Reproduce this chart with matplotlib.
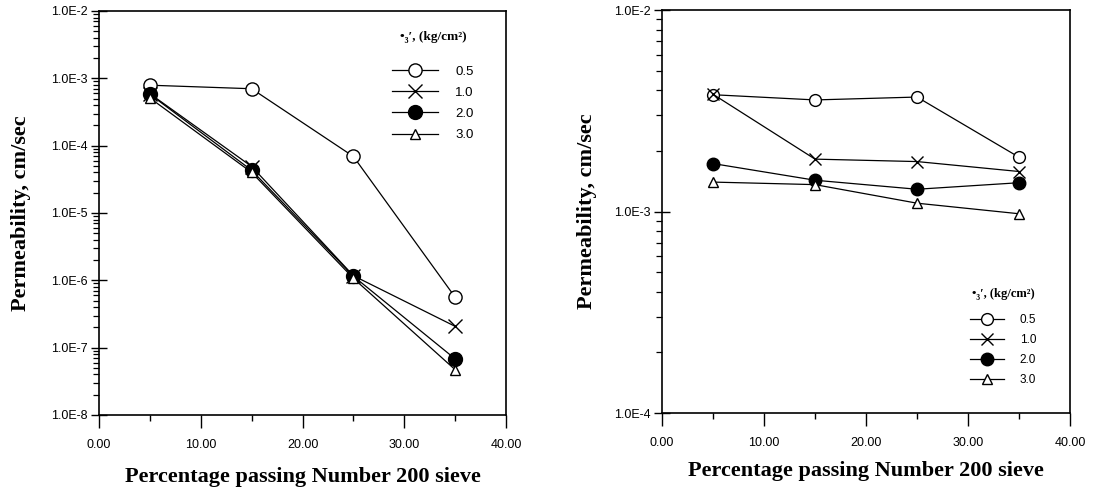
import numpy as np
import matplotlib
matplotlib.use("Agg")
import matplotlib.pyplot as plt
from matplotlib.ticker import FixedLocator, FuncFormatter, LogLocator, NullFormatter

# percentage passing No. 200 sieve
fines = [5, 15, 25, 35]
stress_labels = ["0.5", "1.0", "2.0", "3.0"]

# left panel permeability (cm/sec)
k_left_05 = [7.9e-4, 7.0e-4, 6.9e-5, 5.6e-7]
k_left_10 = [5.9e-4, 4.9e-5, 1.17e-6, 2.07e-7]
k_left_20 = [5.8e-4, 4.3e-5, 1.15e-6, 6.8e-8]
k_left_30 = [5.1e-4, 4.0e-5, 1.07e-6, 4.7e-8]

# right panel permeability (cm/sec)
k_right_05 = [3.80e-3, 3.58e-3, 3.70e-3, 1.86e-3]
k_right_10 = [3.82e-3, 1.82e-3, 1.77e-3, 1.58e-3]
k_right_20 = [1.73e-3, 1.43e-3, 1.29e-3, 1.39e-3]
k_right_30 = [1.40e-3, 1.36e-3, 1.10e-3, 0.975e-3]

x_ticks = [0, 10, 20, 30, 40]

SERIF = ["Liberation Serif", "DejaVu Serif"]
SANS = "Liberation Sans"
legend_title = "\u2022\u2083\u2032, (kg/cm\u00b2)"


def draw_panel(ax, series, ylim, msize, legend_kw, ylab_x, xlab_y):
    styles = [
        dict(marker="o", mfc="white"),
        dict(marker="x", mfc="none", mew=1.0),
        dict(marker="o", mfc="black"),
        dict(marker="^", mfc="white"),
    ]
    for vals, lab, st, ms in zip(series, stress_labels, styles, msize):
        ax.plot(fines, vals, color="black", lw=0.9, mec="black", ms=ms,
                label=lab, **st)
    ax.set_yscale("log")
    ax.set_ylim(*ylim)
    ax.set_xlim(0, 40)
    ax.xaxis.set_major_locator(FixedLocator(x_ticks))
    ax.xaxis.set_minor_locator(FixedLocator([5, 15, 25, 35]))
    ax.xaxis.set_major_formatter(FuncFormatter(lambda v, p: f"{v:.2f}"))
    ax.yaxis.set_major_locator(LogLocator(base=10, numticks=20))
    ax.yaxis.set_minor_locator(LogLocator(base=10, subs=np.arange(2, 10), numticks=20))
    ax.yaxis.set_minor_formatter(NullFormatter())
    ax.yaxis.set_major_formatter(
        FuncFormatter(lambda v, p: f"1.0E{int(round(np.log10(v)))}"))
    ax.tick_params(axis="x", which="major", direction="out", length=9.5,
                   width=1.0, pad=7.5)
    ax.tick_params(axis="x", which="minor", direction="out", length=4.5,
                   width=1.0)
    ax.tick_params(axis="y", which="major", direction="inout", length=12,
                   width=1.0, pad=2)
    ax.tick_params(axis="y", which="minor", direction="out", length=4.5,
                   width=0.9)
    for lab in ax.get_xticklabels() + ax.get_yticklabels():
        lab.set_fontfamily(SANS)
        lab.set_fontsize(9)
    for sp in ax.spines.values():
        sp.set_linewidth(1.2)
    ax.set_xlabel("Percentage passing Number 200 sieve", fontfamily=SERIF,
                  fontweight="bold", fontsize=16)
    ax.xaxis.set_label_coords(0.5, xlab_y)
    ax.set_ylabel("Permeability, cm/sec", fontfamily=SERIF,
                  fontweight="bold", fontsize=16)
    ax.yaxis.set_label_coords(ylab_x, 0.5)
    leg = ax.legend(frameon=False, title=legend_title, borderpad=0,
                    borderaxespad=0, prop={"family": SANS,
                                           "size": legend_kw["size"]},
                    handlelength=legend_kw["hl"], handletextpad=1.3,
                    labelspacing=legend_kw["ls"], loc="upper left",
                    bbox_to_anchor=legend_kw["anchor"])
    leg.get_title().set_fontfamily(SERIF)
    leg.get_title().set_fontweight("bold")
    leg.get_title().set_fontsize(legend_kw["tsize"])
    leg._legend_box.sep = legend_kw["sep"]


fig = plt.figure(figsize=(10.93, 4.90), dpi=100)
ax1 = fig.add_axes([0.0906, 0.1531, 0.3724, 0.8245])
ax2 = fig.add_axes([0.6057, 0.1571, 0.3733, 0.8224])

draw_panel(ax1, [k_left_05, k_left_10, k_left_20, k_left_30], (1e-8, 1e-2),
           [9.5, 10, 10, 7.5],
           dict(size=9.5, tsize=9.5, hl=3.5, ls=0.68, sep=16,
                anchor=(0.72, 0.95)), -0.167, -0.128)
draw_panel(ax2, [k_right_05, k_right_10, k_right_20, k_right_30], (1e-4, 1e-2),
           [8.5, 9, 9, 6.5],
           dict(size=8.5, tsize=9, hl=2.9, ls=0.68, sep=10,
                anchor=(0.755, 0.31)), -0.159, -0.12)

fig.savefig("out.png", dpi=100)
